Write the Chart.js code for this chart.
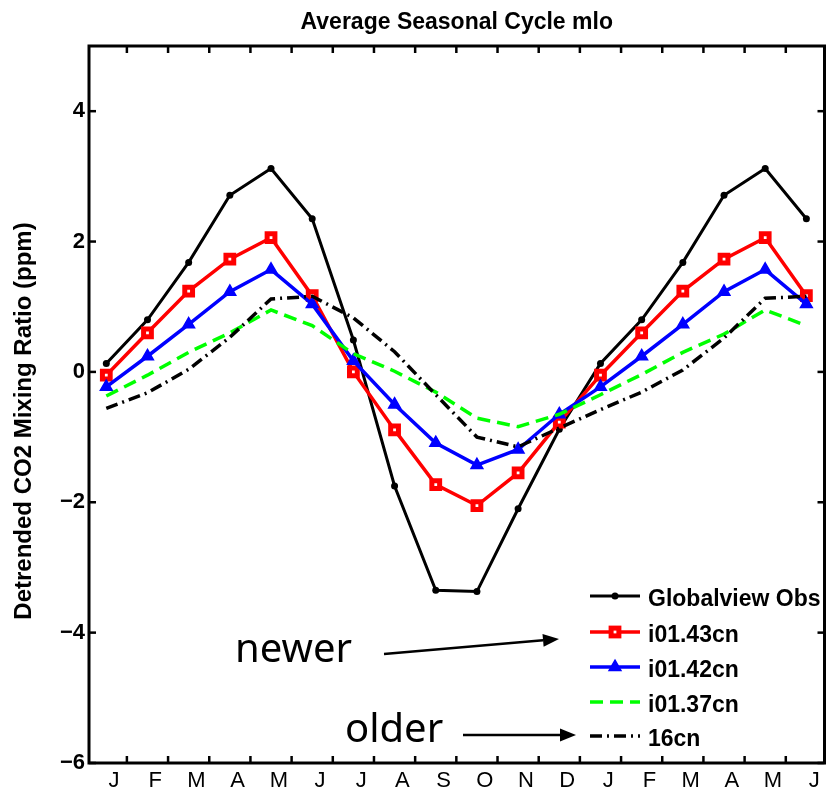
<!DOCTYPE html>
<html>
<head>
<meta charset="utf-8">
<title>Average Seasonal Cycle mlo</title>
<script src="https://cdn.jsdelivr.net/npm/chart.js@4.4.1/dist/chart.umd.min.js"></script>
<style>
  html, body { margin: 0; padding: 0; background: #fff; }
  #wrap { width: 835px; height: 795px; }
</style>
</head>
<body>
<div id="wrap"><canvas id="myChart" width="835" height="795"></canvas></div>
<script>
// two years of months, Jan .. Jun of the next year
const months = ['J', 'F', 'M', 'A', 'M', 'J', 'J', 'A', 'S', 'O', 'N', 'D', 'J', 'F', 'M', 'A', 'M', 'J'];

// detrended CO2 (ppm)
const globalviewObs = [0.13, 0.80, 1.68, 2.71, 3.12, 2.35, 0.49, -1.75, -3.35, -3.37, -2.10, -0.88, 0.13, 0.80, 1.68, 2.71, 3.12, 2.35];
const i0143cn = [-0.05, 0.60, 1.24, 1.73, 2.06, 1.17, 0.00, -0.89, -1.73, -2.05, -1.55, -0.77, -0.05, 0.60, 1.24, 1.73, 2.06, 1.17];
const i0142cn = [-0.23, 0.24, 0.73, 1.23, 1.57, 1.04, 0.17, -0.50, -1.09, -1.43, -1.19, -0.65, -0.23, 0.24, 0.73, 1.23, 1.57, 1.04];
const i0137cn = [-0.37, -0.05, 0.30, 0.60, 0.95, 0.71, 0.28, 0.01, -0.31, -0.71, -0.84, -0.65, -0.35, -0.04, 0.30, 0.58, 0.95, 0.71];
const cn16 = [-0.56, -0.32, 0.04, 0.53, 1.12, 1.16, 0.83, 0.31, -0.35, -1.00, -1.15, -0.86, -0.58, -0.31, 0.03, 0.52, 1.13, 1.16];

const yTicks = [-6, -4, -2, 0, 2, 4];

const FONT = "'Liberation Sans', Arial, Helvetica, sans-serif";

function toPoints(values) {
    return values.map((v, i) => ({ x: i, y: v }));
}

function minus(v) {
    return v < 0 ? '\u2212' + Math.abs(v) : String(v);
}

const datasets = [
    {
        label: 'Globalview Obs', data: toPoints(globalviewObs),
        borderColor: '#000', backgroundColor: '#000', borderWidth: 3,
        pointStyle: 'circle', pointRadius: 3.5, pointBorderWidth: 0, order: 5
    },
    {
        label: 'i01.43cn', data: toPoints(i0143cn),
        borderColor: '#ff0000', backgroundColor: '#fff', borderWidth: 3.5,
        pointStyle: 'rect', pointRadius: 5.5, pointBorderWidth: 5, order: 4
    },
    {
        label: 'i01.42cn', data: toPoints(i0142cn),
        borderColor: '#0000ff', backgroundColor: '#0000ff', borderWidth: 3.5,
        pointStyle: 'triangle', pointRadius: 6.8, pointBorderWidth: 1.5, order: 3
    },
    {
        label: 'i01.37cn', data: toPoints(i0137cn),
        borderColor: '#00ff00', borderWidth: 3.5, borderDash: [13, 7],
        pointRadius: 0, order: 2
    },
    {
        label: '16cn', data: toPoints(cn16),
        borderColor: '#000', borderWidth: 3.5, borderDash: [12, 5, 2, 5],
        pointRadius: 0, order: 1
    }
];

function line(ctx, x1, y1, x2, y2) {
    ctx.beginPath();
    ctx.moveTo(x1, y1);
    ctx.lineTo(x2, y2);
    ctx.stroke();
}

function arrow(ctx, x1, y1, x2, y2) {
    const ang = Math.atan2(y2 - y1, x2 - x1);
    const len = 16, half = 6.5;
    const bx = x2 - len * Math.cos(ang), by = y2 - len * Math.sin(ang);
    ctx.lineWidth = 2.5;
    line(ctx, x1, y1, bx, by);
    ctx.beginPath();
    ctx.moveTo(x2, y2);
    ctx.lineTo(bx + half * Math.sin(ang), by - half * Math.cos(ang));
    ctx.lineTo(bx - half * Math.sin(ang), by + half * Math.cos(ang));
    ctx.closePath();
    ctx.fill();
}

function marker(ctx, ds, x, y) {
    ctx.setLineDash([]);
    if (ds.pointStyle === 'circle') {
        ctx.fillStyle = ds.borderColor;
        ctx.beginPath();
        ctx.arc(x, y, ds.pointRadius, 0, Math.PI * 2);
        ctx.fill();
    } else if (ds.pointStyle === 'rect') {
        const s = ds.pointRadius * Math.SQRT1_2;
        ctx.fillStyle = '#fff';
        ctx.lineWidth = ds.pointBorderWidth;
        ctx.fillRect(x - s, y - s, 2 * s, 2 * s);
        ctx.strokeRect(x - s, y - s, 2 * s, 2 * s);
    } else if (ds.pointStyle === 'triangle') {
        const r = ds.pointRadius;
        ctx.fillStyle = ds.backgroundColor;
        ctx.lineWidth = ds.pointBorderWidth;
        ctx.beginPath();
        for (let k = 0; k < 3; k++) {
            const a = k * 2 * Math.PI / 3;
            ctx.lineTo(x + Math.sin(a) * r, y - Math.cos(a) * r);
        }
        ctx.closePath();
        ctx.fill();
        ctx.stroke();
    }
}

const decorations = {
    id: 'decorations',
    afterDraw(chart) {
        const { ctx, chartArea: a, scales: { x, y } } = chart;
        ctx.save();
        ctx.strokeStyle = '#000';
        ctx.fillStyle = '#000';

        // axes box with inward ticks
        ctx.lineWidth = 3;
        ctx.strokeRect(a.left, a.top, a.right - a.left, a.bottom - a.top);
        ctx.lineWidth = 2.5;
        for (let i = 0; i < months.length - 1; i++) {
            const px = x.getPixelForValue(i + 0.5);
            line(ctx, px, a.bottom, px, a.bottom - 7);
            line(ctx, px, a.top, px, a.top + 7);
        }
        yTicks.forEach(v => {
            const py = y.getPixelForValue(v);
            line(ctx, a.left, py, a.left + 7, py);
            line(ctx, a.right, py, a.right - 7, py);
        });

        // title
        ctx.font = 'bold 23px ' + FONT;
        ctx.textAlign = 'center';
        ctx.textBaseline = 'alphabetic';
        ctx.fillText('Average Seasonal Cycle mlo', (a.left + a.right) / 2, 29);

        // y axis title
        ctx.save();
        ctx.translate(31, 421);
        ctx.rotate(-Math.PI / 2);
        ctx.font = 'bold 24px ' + FONT;
        ctx.fillText('Detrended CO2 Mixing Ratio (ppm)', 0, 0);
        ctx.restore();

        // legend
        const rows = [596, 632, 667, 702, 736];
        ctx.textAlign = 'left';
        ctx.font = 'bold 23px ' + FONT;
        datasets.forEach((ds, k) => {
            const ry = rows[k];
            ctx.strokeStyle = ds.borderColor;
            ctx.lineWidth = ds.borderWidth;
            ctx.setLineDash(ds.borderDash || []);
            line(ctx, 590, ry, 640, ry);
            if (ds.pointRadius > 0) marker(ctx, ds, 615, ry);
            ctx.setLineDash([]);
            ctx.fillStyle = '#000';
            ctx.fillText(ds.label, 648, ry + 10);
        });

        // annotations
        ctx.strokeStyle = '#000';
        ctx.fillStyle = '#000';
        ctx.font = "40px 'Noto Sans', 'Open Sans', sans-serif";
        ctx.fillText('newer', 235, 662);
        ctx.fillText('older', 345, 742);
        arrow(ctx, 384, 654, 559, 639);
        arrow(ctx, 463, 735, 576, 735);
        ctx.restore();
    }
};

new Chart(document.getElementById('myChart'), {
    type: 'line',
    data: { datasets: datasets },
    options: {
        responsive: false,
        animation: false,
        layout: { padding: { top: 46, right: 2, bottom: 0, left: 0 } },
        elements: { line: { tension: 0, fill: false } },
        plugins: { legend: { display: false }, tooltip: { enabled: false }, title: { display: false } },
        scales: {
            x: {
                type: 'linear',
                min: -0.42,
                max: 17.44,
                afterFit(scale) { scale.height = 32; },
                afterBuildTicks(scale) {
                    scale.ticks = months.map((m, i) => ({ value: i + 0.19 }));
                },
                grid: { display: false, drawTicks: false },
                border: { display: false },
                ticks: {
                    autoSkip: false,
                    maxRotation: 0,
                    padding: 5,
                    color: '#000',
                    font: { family: FONT, size: 22 },
                    callback: (value, index) => months[index]
                }
            },
            y: {
                type: 'linear',
                min: -6,
                max: 5,
                afterFit(scale) { scale.width = 89; },
                afterBuildTicks(scale) {
                    scale.ticks = yTicks.map(v => ({ value: v }));
                },
                grid: { display: false, drawTicks: false },
                border: { display: false },
                ticks: {
                    padding: 4,
                    color: '#000',
                    font: { family: FONT, size: 22, weight: 'bold' },
                    callback: (value) => minus(value)
                }
            }
        }
    },
    plugins: [decorations]
});
</script>
</body>
</html>
